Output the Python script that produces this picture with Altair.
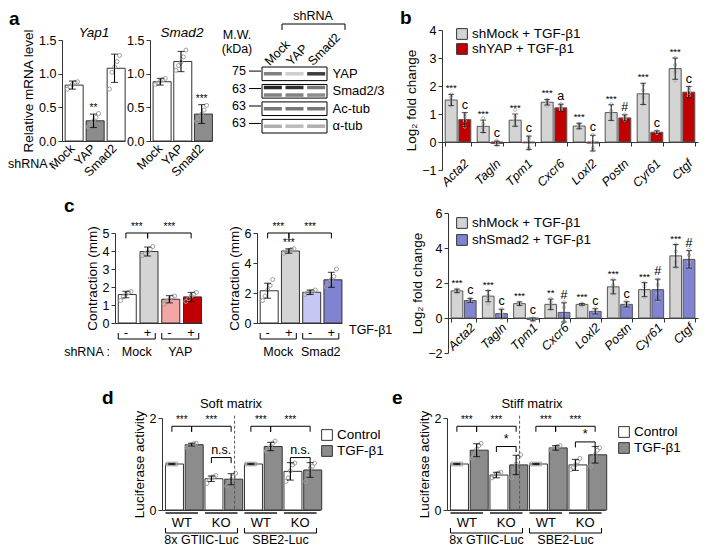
import altair as alt
import pandas as pd

W, H = 691, 538
FONT = "Liberation Sans"
AX = "#333333"
DOT = "#a0a0a0"
WHITE = "#ffffff"
LGRAY = "#d4d4d4"
MGRAY = "#8c8c8c"
RED = "#c00000"
PINK = "#f4a5a5"
BLUE = "#7f83d0"
LAV = "#c7c7f6"

# ================= DATA =================
# panel a : qPCR
a_cats = ["Mock", "YAP", "Smad2"]
yap1_mean = [0.83, 0.30, 1.08]
yap1_err = [0.06, 0.10, 0.21]
yap1_sig = ["", "**", ""]
yap1_pts = [[0.77, 0.80, 0.84, 0.87, 0.88],
            [0.21, 0.26, 0.30, 0.35, 0.41],
            [0.77, 1.02, 1.10, 1.18, 1.27]]
smad2_mean = [0.88, 1.18, 0.40]
smad2_err = [0.05, 0.15, 0.14]
smad2_sig = ["", "", "***"]
smad2_pts = [[0.84, 0.86, 0.89, 0.91, 0.93],
             [1.05, 1.12, 1.17, 1.25, 1.35],
             [0.29, 0.35, 0.40, 0.46, 0.53]]

# panel a : western blot
blot_rows = ["YAP", "Smad2/3", "Ac-tub", "α-tub"]
blot_mw = ["75", "63", "63", "63"]
blot_lanes = ["Mock", "YAP", "Smad2"]
blot_band_row = ["YAP", "Smad2/3", "Smad2/3", "Ac-tub", "α-tub"]
blot_band_sub = ["mid", "upper", "lower", "mid", "mid"]
blot_band_int = [[0.55, 0.22, 0.85],
                 [0.95, 0.90, 0.60],
                 [0.55, 0.55, 0.50],
                 [0.60, 0.60, 0.60],
                 [0.35, 0.30, 0.35]]

# panel b
b_genes = ["Acta2", "Tagln", "Tpm1", "Cxcr6", "Loxl2", "Postn", "Cyr61", "Ctgf"]
b1_groups = ["shMock + TGF-β1", "shYAP + TGF-β1"]
b1_mock = [1.50, 0.56, 0.78, 1.42, 0.57, 1.05, 1.72, 2.62]
b1_mock_err = [0.20, 0.22, 0.22, 0.10, 0.10, 0.28, 0.38, 0.38]
b1_yap = [0.80, -0.05, -0.03, 1.22, -0.04, 0.86, 0.35, 1.78]
b1_yap_err = [0.25, 0.08, 0.24, 0.13, 0.28, 0.11, 0.05, 0.20]
b1_mock_sig = ["***"] * 8
b1_yap_sig = ["c", "c", "c", "a", "c", "#", "c", "c"]
b1_mock_pts = [[1.30, 1.45, 1.60, 1.70], [0.35, 0.50, 0.65, 0.85], [0.60, 0.75, 0.90, 1.15],
               [1.30, 1.40, 1.45, 1.50], [0.50, 0.55, 0.60, 0.65], [0.80, 0.95, 1.10, 1.35],
               [1.35, 1.60, 1.85, 2.05], [2.20, 2.50, 2.75, 3.00]]
b1_yap_pts = [[0.55, 0.75, 0.90, 1.00], [-0.10, 0.00, 0.05], [-0.25, -0.20, 0.10, 0.20],
              [1.15, 1.20, 1.30, 1.35], [-0.30, -0.20, 0.00, 0.25], [0.78, 0.85, 0.90, 0.98],
              [0.32, 0.35, 0.38], [1.65, 1.75, 1.85, 1.95]]

b2_groups = ["shMock + TGF-β1", "shSmad2 + TGF-β1"]
b2_mock = [1.55, 1.25, 0.82, 0.78, 0.78, 1.78, 1.62, 3.55]
b2_mock_err = [0.10, 0.32, 0.10, 0.30, 0.05, 0.40, 0.40, 0.65]
b2_smad = [1.00, 0.25, -0.08, 0.32, 0.38, 0.78, 1.62, 3.35]
b2_smad_err = [0.12, 0.25, 0.08, 0.55, 0.15, 0.15, 0.60, 0.50]
b2_mock_sig = ["***", "***", "***", "**", "***", "***", "***", "***"]
b2_smad_sig = ["c", "c", "c", "#", "c", "c", "#", "#"]
b2_mock_pts = [[1.45, 1.55, 1.62], [0.80, 1.10, 1.30, 1.55], [0.75, 0.80, 0.88],
               [0.50, 0.70, 0.90, 1.10], [0.72, 0.78, 0.82], [1.40, 1.60, 1.90, 2.20],
               [1.20, 1.50, 1.80, 2.00], [2.90, 3.20, 3.80, 4.20]]
b2_smad_pts = [[0.90, 1.00, 1.10], [0.00, 0.15, 0.30, 0.50], [-0.15, -0.10, -0.02],
               [-0.20, 0.20, 0.60, 0.90], [0.25, 0.35, 0.55], [0.65, 0.80, 0.95],
               [1.00, 1.40, 1.90, 2.20], [2.90, 3.20, 3.60, 3.90]]

# panel c
c1_cats = ["Mock -", "Mock +", "YAP -", "YAP +"]
c1_mean = [1.58, 3.97, 1.32, 1.45]
c1_err = [0.18, 0.25, 0.20, 0.25]
c1_pts = [[1.25, 1.45, 1.60, 1.70, 1.75], [3.75, 3.85, 3.95, 4.10, 4.25],
          [1.05, 1.20, 1.30, 1.45, 1.50], [1.20, 1.35, 1.50, 1.60, 1.70]]
c2_cats = ["Mock -", "Mock +", "Smad2 -", "Smad2 +"]
c2_mean = [2.15, 4.80, 2.05, 2.88]
c2_err = [0.50, 0.15, 0.15, 0.50]
c2_pts = [[1.50, 1.80, 2.20, 2.50, 2.90], [4.65, 4.75, 4.80, 4.90, 4.95],
          [1.90, 2.00, 2.05, 2.10, 2.20], [2.40, 2.70, 2.90, 3.10, 3.60]]
c2_sig = ["", "***", "", ""]

# panels d / e
de_cats = ["GT WT C", "GT WT T", "GT KO C", "GT KO T",
           "SB WT C", "SB WT T", "SB KO C", "SB KO T"]
d_mean = [1.00, 1.42, 0.68, 0.67, 1.00, 1.38, 0.84, 0.87]
d_err = [0.01, 0.03, 0.06, 0.12, 0.01, 0.09, 0.19, 0.16]
d_pts = [[1.0, 1.0, 1.0, 1.0, 1.0], [1.36, 1.40, 1.42, 1.44, 1.45],
         [0.58, 0.65, 0.70, 0.72, 0.75], [0.52, 0.60, 0.66, 0.72, 0.80],
         [1.0, 1.0, 1.0, 1.0, 1.0], [1.28, 1.33, 1.38, 1.45, 1.50],
         [0.62, 0.70, 0.85, 0.98, 1.02], [0.62, 0.78, 0.90, 0.95, 1.02]]
e_mean = [1.00, 1.30, 0.76, 0.98, 1.00, 1.35, 0.98, 1.20]
e_err = [0.01, 0.14, 0.06, 0.21, 0.01, 0.05, 0.12, 0.18]
e_pts = [[1.0, 1.0, 1.0, 1.0, 1.0], [1.12, 1.20, 1.32, 1.40, 1.45],
         [0.70, 0.74, 0.78, 0.80, 0.82], [0.70, 0.85, 1.00, 1.15, 1.20],
         [1.0, 1.0, 1.0, 1.0, 1.0], [1.30, 1.33, 1.36, 1.38, 1.40],
         [0.88, 0.92, 0.98, 1.05, 1.12], [0.95, 1.10, 1.20, 1.30, 1.35]]
de_legend = ["Control", "TGF-β1"]


# ================= HELPERS =================
def y_at(v, yr, dom):
    return yr[0] + (v - dom[0]) / (dom[1] - dom[0]) * (yr[1] - yr[0])


def yax(x0, values, title="", fmt=None, size=12.5, tsize=13.5):
    kw = dict(orient="left", offset=-x0, values=values, title=title, tickSize=4,
              labelFontSize=size, titleFontSize=tsize, labelPadding=2, titlePadding=3,
              domainColor=AX, tickColor=AX, labelColor="black", titleColor="black",
              grid=False, labelFont=FONT, titleFont=FONT, titleFontWeight="normal")
    if fmt:
        kw["format"] = fmt
    return alt.Axis(**kw)


def xax(y0, **extra):
    kw = dict(orient="bottom", offset=y0 - H, title="", grid=False, domainColor=AX,
              tickColor=AX, labelColor="black", labelFont=FONT, labelOverlap=False)
    kw.update(extra)
    return alt.Axis(**kw)


def bar_panel(cats, means, errs, fills, sigs, pts, xr, yr, ydom, xa, ya, pad=0.3):
    xs = alt.Scale(domain=cats, range=xr, paddingInner=pad, paddingOuter=pad / 2)
    step = (xr[1] - xr[0]) / len(cats)
    ys = alt.Scale(domain=ydom, range=yr, nice=False)
    df = pd.DataFrame({"cat": cats, "mean": means,
                       "lo": [m - e for m, e in zip(means, errs)],
                       "hi": [m + e for m, e in zip(means, errs)],
                       "fill": fills, "sig": sigs})
    pdf = pd.DataFrame([{"cat": c, "val": v, "rep": str(i)}
                        for c, vs in zip(cats, pts) for i, v in enumerate(vs)])
    X = alt.X("cat:N", scale=xs, axis=xa)

    def Y(f):
        return alt.Y(f + ":Q", scale=ys, axis=ya)

    base = alt.Chart(df)
    layers = [
        base.mark_bar(stroke=AX, strokeWidth=1).encode(
            x=X, y=Y("mean"), fill=alt.Fill("fill:N", scale=None)),
        alt.Chart(pdf).mark_point(shape="circle", size=16, filled=False, color=DOT,
                                  strokeWidth=1, opacity=1).encode(
            x=X, xOffset=alt.XOffset("rep:N", scale=alt.Scale(paddingOuter=0.9)), y=Y("val")),
        base.mark_rule(color="black", strokeWidth=1.1).encode(x=X, y=Y("lo"), y2="hi"),
        base.mark_tick(orient="horizontal", size=7, thickness=1.1, color="black").encode(x=X, y=Y("lo")),
        base.mark_tick(orient="horizontal", size=7, thickness=1.1, color="black").encode(x=X, y=Y("hi")),
        base.mark_text(baseline="bottom", dy=-1, fontSize=10, font=FONT, color="black").encode(
            x=X, y=Y("hi"), text="sig:N"),
    ]
    return layers, xs, ys, step


def sig_layers(spec, cats, xs, xa, ys, ya, leg, step):
    rows = []
    for c1, c2, lvl, lab in spec:
        i, j = cats.index(c1), cats.index(c2)
        rows.append({"c1": c1, "c2": c2, "span": j - i,
                     "lvl": lvl, "low": lvl - leg, "lab": lab,
                     "fs": 10 if lab.startswith("**") else 12.5})
    df = pd.DataFrame(rows)
    base = alt.Chart(df)
    Yl = alt.Y("lvl:Q", scale=ys, axis=ya)
    X1 = alt.X("c1:N", scale=xs, axis=xa, bandPosition=0.5)
    rk = dict(color="black", strokeWidth=1)
    out = [
        base.mark_rule(**rk).encode(x=X1, x2=alt.X2("c2:N", bandPosition=0.5), y=Yl),
        base.mark_rule(**rk).encode(x=X1, y=Yl, y2="low"),
        base.mark_rule(**rk).encode(x=alt.X("c2:N", scale=xs, axis=xa, bandPosition=0.5), y=Yl, y2="low"),
    ]
    for sp in sorted(set(df["span"])):
        out.append(base.transform_filter(f"datum.span == {sp}").mark_text(
            baseline="bottom", dy=-1, dx=sp * step / 2, font=FONT, color="black").encode(
            x=X1, y=Yl, text="lab:N", size=alt.Size("fs:Q", scale=None)))
    return out


def group_layers(spec, cats, xs, xa, step, y_line, y_top, y_text, fs=12.5, legs=True,
                 color="black", sw=1):
    rows = []
    for c1, c2, lab in spec:
        rows.append({"c1": c1, "c2": c2, "lab": lab})
    span = cats.index(spec[0][1]) - cats.index(spec[0][0])
    df = pd.DataFrame(rows)
    base = alt.Chart(df)
    rk = dict(color=color, strokeWidth=sw)
    out = [base.mark_rule(**rk).encode(x=alt.X("c1:N", scale=xs, axis=xa, bandPosition=0),
                                       x2=alt.X2("c2:N", bandPosition=1), y=alt.value(y_line))]
    if legs:
        out += [
            base.mark_rule(**rk).encode(x=alt.X("c1:N", scale=xs, axis=xa, bandPosition=0),
                                        y=alt.value(y_top), y2=alt.value(y_line)),
            base.mark_rule(**rk).encode(x=alt.X("c2:N", scale=xs, axis=xa, bandPosition=1),
                                        y=alt.value(y_top), y2=alt.value(y_line)),
        ]
    out.append(base.mark_text(baseline="middle", fontSize=fs, font=FONT, color="black",
                              dx=span * step / 2).encode(
        x=alt.X("c1:N", scale=xs, axis=xa, bandPosition=0.5), y=alt.value(y_text), text="lab:N"))
    return out


def grouped_panel(genes, groups, m1, e1, s1, p1, m2, e2, s2, p2, fills, xr, yr, ydom, xa, ya):
    rows, prow = [], []
    for k, g in enumerate(genes):
        for gi, (m, e, s, ps) in enumerate([(m1[k], e1[k], s1[k], p1[k]),
                                            (m2[k], e2[k], s2[k], p2[k])]):
            rows.append({"gene": g, "grp": groups[gi], "mean": m, "lo": m - e, "hi": m + e,
                         "fill": fills[gi], "sig": s, "fs": 9.5 if s.startswith("*") else 12.5})
            for v in ps:
                prow.append({"gene": g, "grp": groups[gi], "val": v})
    df = pd.DataFrame(rows)
    xs = alt.Scale(domain=genes, range=xr, paddingInner=0.2, paddingOuter=0.1)
    xos = alt.Scale(domain=groups, paddingInner=0.12)
    ys = alt.Scale(domain=ydom, range=yr, nice=False)
    X = alt.X("gene:N", scale=xs, axis=xa)
    XO = alt.XOffset("grp:N", scale=xos)

    def Y(f):
        return alt.Y(f + ":Q", scale=ys, axis=ya)

    base = alt.Chart(df)
    return alt.layer(
        base.mark_bar(stroke="#555555", strokeWidth=1).encode(
            x=X, xOffset=XO, y=Y("mean"), fill=alt.Fill("fill:N", scale=None)),
        alt.Chart(pd.DataFrame(prow)).mark_point(shape="circle", size=10, filled=False,
                                                 color="#b0b0b0", strokeWidth=0.9, opacity=1).encode(
            x=X, xOffset=XO, y=Y("val")),
        base.mark_rule(color="#111111", strokeWidth=1).encode(x=X, xOffset=XO, y=Y("lo"), y2="hi"),
        base.mark_tick(orient="horizontal", size=6, thickness=1, color="#111111").encode(
            x=X, xOffset=XO, y=Y("lo")),
        base.mark_tick(orient="horizontal", size=6, thickness=1, color="#111111").encode(
            x=X, xOffset=XO, y=Y("hi")),
        base.mark_text(baseline="bottom", dy=-1, font=FONT, color="black").encode(
            x=X, xOffset=XO, y=Y("hi"), text="sig:N", size=alt.Size("fs:Q", scale=None)),
    )


def legend(labels, fills, x_sq, x_txt, y_rng, fs=13.5, sq=115):
    df = pd.DataFrame({"lab": labels, "fill": fills})
    Y = alt.Y("lab:N", scale=alt.Scale(domain=labels, range=y_rng, padding=0), axis=None)
    base = alt.Chart(df)
    return alt.layer(
        base.mark_square(size=sq, stroke=AX, strokeWidth=1, opacity=1).encode(
            x=alt.value(x_sq), y=Y, fill=alt.Fill("fill:N", scale=None)),
        base.mark_text(align="left", baseline="middle", fontSize=fs, font=FONT, color="black").encode(
            x=alt.value(x_txt), y=Y, text="lab:N"),
    )


def txt(s, x, y, size=12.5, align="center", baseline="middle", weight="normal", style="normal"):
    return alt.Chart(pd.DataFrame({"t": [s]})).mark_text(
        align=align, baseline=baseline, fontSize=size, font=FONT, fontWeight=weight,
        fontStyle=style, color="black").encode(x=alt.value(x), y=alt.value(y), text="t:N")


def seg(x1, y1, x2, y2, sw=1, color="black"):
    return alt.Chart(pd.DataFrame({"k": [0]})).mark_rule(color=color, strokeWidth=sw).encode(
        x=alt.value(x1), y=alt.value(y1), x2=alt.value(x2), y2=alt.value(y2))


panels = []

# ================= PANEL a (qPCR) =================
A_YR, A_DOM = [133, 32], [0, 1.5]
a_xax = xax(133, labelAngle=-45, labelAlign="right", labelBaseline="middle", labelPadding=5,
            ticks=False, labelFontSize=12.5)
lay, _, _, _ = bar_panel(a_cats, yap1_mean, yap1_err, [WHITE, MGRAY, WHITE], yap1_sig, yap1_pts,
                         [54, 117], A_YR, A_DOM, a_xax,
                         yax(54, [0, 0.5, 1, 1.5], "Relative mRNA level", ".1f"))
panels.append(alt.layer(*lay))
lay, _, _, _ = bar_panel(a_cats, smad2_mean, smad2_err, [WHITE, WHITE, MGRAY], smad2_sig, smad2_pts,
                         [142, 204], A_YR, A_DOM, a_xax,
                         yax(142, [0, 0.5, 1, 1.5], "", ".1f"))
panels.append(alt.layer(*lay))

# ================= PANEL a (blot) =================
lane_scale = alt.Scale(domain=blot_lanes, range=[254, 319], paddingInner=0.1, paddingOuter=0.05)
row_scale = alt.Scale(domain=blot_rows, range=[59, 125], paddingInner=0.22, paddingOuter=0)
sub_scale = alt.Scale(domain=["upper", "mid", "lower"], paddingInner=0, paddingOuter=0.3)
row_axis = alt.Axis(orient="right", offset=321 - W, ticks=False, domain=False, labelFontSize=13,
                    labelPadding=3, title="", labelColor="black", labelFont=FONT, grid=False)
lane_axis = alt.Axis(orient="top", offset=-57, ticks=False, domain=False, labelAngle=-45,
                     labelAlign="left", labelBaseline="middle", labelFontSize=12.5, labelPadding=2,
                     title="", labelColor="black", labelFont=FONT, grid=False, labelOffset=-6)
rows_df = pd.DataFrame({"row": blot_rows, "mw": blot_mw})
bands_df = pd.DataFrame([{"row": r, "sub": s, "lane": ln, "inten": v}
                         for r, s, vals in zip(blot_band_row, blot_band_sub, blot_band_int)
                         for ln, v in zip(blot_lanes, vals)])
RY = alt.Y("row:N", scale=row_scale, axis=row_axis)
RYt = alt.Y("row:N", scale=row_scale, axis=row_axis, bandPosition=0.3)
panels.append(alt.layer(
    alt.Chart(rows_df).mark_rect(fill="white", stroke="black", strokeWidth=1).encode(
        x=alt.value(254), x2=alt.value(319), y=RY),
    alt.Chart(bands_df).mark_tick(orient="horizontal", size=18, thickness=3.5, color="#1a1a1a").encode(
        x=alt.X("lane:N", scale=lane_scale, axis=lane_axis), y=RY,
        yOffset=alt.YOffset("sub:N", scale=sub_scale), opacity=alt.Opacity("inten:Q", scale=None)),
    alt.Chart(rows_df).mark_text(align="right", baseline="middle", fontSize=12.5, font=FONT,
                                 color="black").encode(x=alt.value(238), y=RYt, text="mw:N"),
    alt.Chart(rows_df).mark_rule(color="black", strokeWidth=1).encode(
        x=alt.value(241), x2=alt.value(253), y=RYt),
))

# ================= PANEL b =================
B1_YR, B1_DOM = [162, 22], [-1, 4]
b1_y0 = y_at(0, B1_YR, B1_DOM)
b1_xax = xax(b1_y0, labelAngle=-45, labelAlign="right", labelBaseline="middle", labelPadding=15,
             labelOffset=8, labelFontSize=12.5, labelFontStyle="italic", tickBand="extent", tickSize=4)
panels.append(grouped_panel(b_genes, b1_groups, b1_mock, b1_mock_err, b1_mock_sig, b1_mock_pts,
                            b1_yap, b1_yap_err, b1_yap_sig, b1_yap_pts, [LGRAY, RED],
                            [434, 690], B1_YR, B1_DOM, b1_xax,
                            yax(434, [-1, 0, 1, 2, 3, 4], "Log₂ fold change")))
panels.append(legend(b1_groups, [LGRAY, RED], 454, 464, [26, 41]))

B2_YR, B2_DOM = [345, 205], [-2, 6]
b2_y0 = y_at(0, B2_YR, B2_DOM)
b2_xax = xax(b2_y0, labelAngle=-45, labelAlign="right", labelBaseline="middle", labelPadding=3,
             labelOffset=9, labelFontSize=12.5, labelFontStyle="italic", tickBand="extent", tickSize=4)
panels.append(grouped_panel(b_genes, b2_groups, b2_mock, b2_mock_err, b2_mock_sig, b2_mock_pts,
                            b2_smad, b2_smad_err, b2_smad_sig, b2_smad_pts, [LGRAY, BLUE],
                            [440, 690], B2_YR, B2_DOM, b2_xax,
                            yax(440, [-2, 0, 2, 4, 6], "Log₂ fold change")))
panels.append(legend(b2_groups, [LGRAY, BLUE], 454, 464, [215, 232]))

# ================= PANEL c =================
C_YR = [315, 225]
c_xax = xax(315, ticks=False, labelExpr="split(datum.label, ' ')[1]", labelFontSize=13,
            labelPadding=3, labelAngle=0)
ya = yax(107, [0, 1, 2, 3, 4, 5], "Contraction (mm)")
lay, xs, ys, st = bar_panel(c1_cats, c1_mean, c1_err, [WHITE, LGRAY, PINK, RED], [""] * 4, c1_pts,
                            [107, 194], C_YR, [0, 5], c_xax, ya)
lay += sig_layers([("Mock -", "Mock +", 5.0, "***"), ("Mock +", "YAP +", 5.0, "***")],
                  c1_cats, xs, c_xax, ys, ya, 0.3, st)
lay += group_layers([("Mock -", "Mock +", "Mock"), ("YAP -", "YAP +", "YAP")],
                    c1_cats, xs, c_xax, st, 331, 325, 344)
panels.append(alt.layer(*lay))

ya2 = yax(249, [0, 2, 4, 6], "Contraction (mm)")
lay, xs, ys, st = bar_panel(c2_cats, c2_mean, c2_err, [WHITE, LGRAY, LAV, BLUE], c2_sig, c2_pts,
                            [249, 334], C_YR, [0, 6], c_xax, ya2)
lay += sig_layers([("Mock -", "Mock +", 6.0, "***"), ("Mock +", "Smad2 +", 6.0, "***")],
                  c2_cats, xs, c_xax, ys, ya2, 0.36, st)
lay += group_layers([("Mock -", "Mock +", "Mock"), ("Smad2 -", "Smad2 +", "Smad2")],
                    c2_cats, xs, c_xax, st, 331, 325, 344)
panels.append(alt.layer(*lay))

# ================= PANELS d / e =================
DE_YR, DE_DOM = [502, 410], [0, 2]
PAD_DE = 0.35
de_xax = xax(502, ticks=False, labels=False)
de_fill = [WHITE, MGRAY] * 4


def de_panel(means, errs, pts, xr, y_x0, sig_spec):
    ya_ = yax(y_x0, [0, 1, 2], "Luciferase activity", "d")
    lay_, xs_, ys_, st_ = bar_panel(de_cats, means, errs, de_fill, [""] * 8, pts, xr, DE_YR, DE_DOM,
                                    de_xax, ya_, pad=PAD_DE)
    lay_ += sig_layers(sig_spec, de_cats, xs_, de_xax, ys_, ya_, 0.12, st_)
    # dashed separator between the two reporters
    lay_.append(alt.Chart(pd.DataFrame({"c": [de_cats[3]]})).mark_rule(
        color="#555555", strokeDash=[3, 2], strokeWidth=1).encode(
        x=alt.X("c:N", scale=xs_, axis=de_xax, bandPosition=0.5),
        xOffset=alt.value(st_ / 2),
        y=alt.datum(2.05), y2=alt.datum(0)))
    lay_ += group_layers([(de_cats[0], de_cats[1], "WT"), (de_cats[2], de_cats[3], "KO"),
                          (de_cats[4], de_cats[5], "WT"), (de_cats[6], de_cats[7], "KO")],
                         de_cats, xs_, de_xax, st_, 505, 505, 515, fs=13, legs=False,
                         color="#555555", sw=2)
    lay_ += group_layers([(de_cats[0], de_cats[3], "8x GTIIC-Luc"),
                          (de_cats[4], de_cats[7], "SBE2-Luc")],
                         de_cats, xs_, de_xax, st_, 525, 520, 532, fs=12.5)
    return alt.layer(*lay_)


panels.append(de_panel(d_mean, d_err, d_pts, [154, 312], 154,
                       [(de_cats[0], de_cats[1], 1.82, "***"), (de_cats[1], de_cats[3], 1.82, "***"),
                        (de_cats[2], de_cats[3], 1.14, "n.s."), (de_cats[4], de_cats[5], 1.82, "***"),
                        (de_cats[5], de_cats[7], 1.82, "***"), (de_cats[6], de_cats[7], 1.14, "n.s.")]))
panels.append(legend(de_legend, [WHITE, MGRAY], 319, 329, [427, 443]))
panels.append(de_panel(e_mean, e_err, e_pts, [439, 597], 439,
                       [(de_cats[0], de_cats[1], 1.82, "***"), (de_cats[1], de_cats[3], 1.82, "***"),
                        (de_cats[2], de_cats[3], 1.38, "*"), (de_cats[4], de_cats[5], 1.82, "***"),
                        (de_cats[5], de_cats[7], 1.82, "***"), (de_cats[6], de_cats[7], 1.48, "*")]))
panels.append(legend(de_legend, [WHITE, MGRAY], 616, 626, [424, 440]))

# ================= DECORATION TEXT =================
decor = [
    txt("a", 1, 11, 19, align="left", weight="bold"),
    txt("Yap1", 86, 25, 13.5, style="italic"),
    txt("Smad2", 174, 25, 13.5, style="italic"),
    txt("shRNA :", 0, 156, 12.5, align="left"),
    txt("M.W.", 229, 27, 12.5),
    txt("(kDa)", 229, 41, 12.5),
    txt("shRNA", 305, 8, 12.5),
    seg(274, 16, 337, 16), seg(274, 16, 274, 22), seg(337, 16, 337, 22),
    txt("b", 392, 10, 19, align="left", weight="bold"),
    txt("c", 56, 198, 19, align="left", weight="bold"),
    txt("shRNA :", 102, 344, 12.5, align="right"),
    txt("TGF-β1", 341, 322, 12.5, align="left"),
    txt("d", 94, 390, 19, align="left", weight="bold"),
    txt("Soft matrix", 223, 396, 13),
    txt("e", 384, 390, 19, align="left", weight="bold"),
    txt("Stiff matrix", 524, 396, 13),
]

chart = alt.layer(*panels, *decor).resolve_scale(
    x="independent", y="independent", xOffset="independent", yOffset="independent"
).resolve_axis(x="independent", y="independent").properties(
    width=W, height=H, padding=0, autosize=alt.AutoSizeParams(type="none")
).configure_view(stroke=None).configure_axis(grid=False)

chart.save("out.html", embed_options={"renderer": "svg", "actions": False})
